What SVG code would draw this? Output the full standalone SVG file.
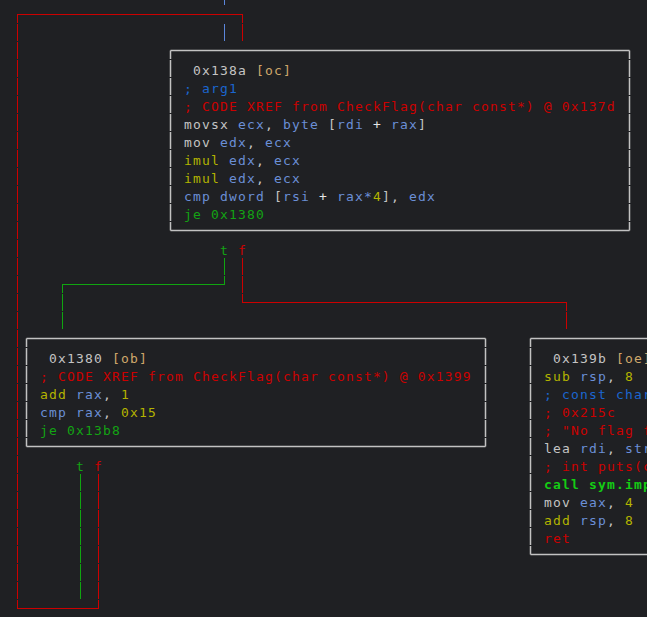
<svg xmlns="http://www.w3.org/2000/svg" width="647" height="617" viewBox="0 0 647 617">
<style>
  text { font-family: "DejaVu Sans Mono", "Liberation Mono", monospace; font-size: 13px; letter-spacing: 1.17px; }
  .w { fill: #c4c4c4; }
  .pl { fill: #e6e6e6; }
  .bl { fill: #6b8fd6; }
  .cm { fill: #1b66cf; }
  .rd { fill: #cc0000; }
  .yl { fill: #b3b300; }
  .gr { fill: #13a313; }
  .cg { fill: #14cc14; font-weight: bold; }
  .hd { fill: #cfa86b; }
  .edge { fill: none; stroke-width: 1; }
  .vs { stroke-dasharray: 17 1; }
  .vc { stroke-dasharray: 17 1; stroke-dashoffset: 8.5; }
  .red { stroke: #cc0000; }
  .green { stroke: #10a510; }
  .blue { stroke: #5b86db; }
  .bh { fill: none; stroke: #c2c2c2; stroke-width: 1.5; }
  .bv { fill: none; stroke: #c2c2c2; stroke-width: 1.5; stroke-dasharray: 17 1; stroke-dashoffset: 8.5; }
</style>
<rect x="0" y="0" width="647" height="617" fill="#1f2023"/>

<g id="connectors">
  <!-- incoming blue to oc -->
  <path class="edge blue" d="M224.5,0 V5"/>
  <path class="edge blue vs" d="M224.5,24 V42"/>
  <!-- loop back red from ob f to oc -->
  <path class="edge red" d="M17,14.5 H243"/>
  <path class="edge red vc" d="M242.5,14.5 V42"/>
  <path class="edge red vc" d="M17.5,14.5 V609"/>
  <path class="edge red" d="M17,608.5 H99"/>
  <path class="edge red vs" d="M98.5,474 V609"/>
  <!-- oc t -> ob -->
  <path class="edge green vs" d="M224.5,258 V285"/>
  <path class="edge green" d="M62,284.5 H225"/>
  <path class="edge green vc" d="M62.5,284.5 V330"/>
  <!-- oc f -> oe -->
  <path class="edge red vs" d="M242.5,258 V303"/>
  <path class="edge red" d="M242,302.5 H567"/>
  <path class="edge red vc" d="M566.5,302.5 V330"/>
  <!-- ob t -> below -->
  <path class="edge green vs" d="M80.5,474 V600"/>
  <!-- labels -->
  <text x="220" y="254.5" class="gr">t</text>
  <text x="238" y="254.5" class="rd">f</text>
  <text x="76" y="470.5" class="gr">t</text>
  <text x="94" y="470.5" class="rd">f</text>
</g>

<g id="node-oc">
  <path class="bh" d="M170.5,50.5 H629.5 M170.5,230.5 H629.5"/>
  <path class="bv" d="M170.5,50.5 V230.5 M629.5,50.5 V230.5"/>
  <text y="74.5"><tspan x="193" class="w">0x138a</tspan><tspan x="256" class="hd">[oc]</tspan></text>
  <text y="92.5"><tspan x="184" class="cm">; arg1</tspan></text>
  <text y="110.5"><tspan x="184" class="rd">; CODE XREF from CheckFlag(char const*) @ 0x137d</tspan></text>
  <text y="128.5"><tspan x="184" class="w">movsx</tspan><tspan x="238" class="bl">ecx</tspan><tspan x="265" class="w">,</tspan><tspan x="283" class="bl">byte</tspan><tspan x="328" class="w">[</tspan><tspan x="337" class="bl">rdi</tspan><tspan x="373" class="pl">+</tspan><tspan x="391" class="bl">rax</tspan><tspan x="418" class="w">]</tspan></text>
  <text y="146.5"><tspan x="184" class="w">mov</tspan><tspan x="220" class="bl">edx</tspan><tspan x="247" class="w">,</tspan><tspan x="265" class="bl">ecx</tspan></text>
  <text y="164.5"><tspan x="184" class="yl">imul</tspan><tspan x="229" class="bl">edx</tspan><tspan x="256" class="w">,</tspan><tspan x="274" class="bl">ecx</tspan></text>
  <text y="182.5"><tspan x="184" class="yl">imul</tspan><tspan x="229" class="bl">edx</tspan><tspan x="256" class="w">,</tspan><tspan x="274" class="bl">ecx</tspan></text>
  <text y="200.5"><tspan x="184" class="bl">cmp</tspan><tspan x="220" class="bl">dword</tspan><tspan x="274" class="w">[</tspan><tspan x="283" class="bl">rsi</tspan><tspan x="319" class="pl">+</tspan><tspan x="337" class="bl">rax*</tspan><tspan x="373" class="yl">4</tspan><tspan x="382" class="w">],</tspan><tspan x="409" class="bl">edx</tspan></text>
  <text y="218.5"><tspan x="184" class="gr">je 0x1380</tspan></text>
</g>

<g id="node-ob">
  <path class="bh" d="M26.5,338.5 H485.5 M26.5,446.5 H485.5"/>
  <path class="bv" d="M26.5,338.5 V446.5 M485.5,338.5 V446.5"/>
  <text y="362.5"><tspan x="49" class="w">0x1380</tspan><tspan x="112" class="hd">[ob]</tspan></text>
  <text y="380.5"><tspan x="40" class="rd">; CODE XREF from CheckFlag(char const*) @ 0x1399</tspan></text>
  <text y="398.5"><tspan x="40" class="yl">add</tspan><tspan x="76" class="bl">rax</tspan><tspan x="103" class="w">,</tspan><tspan x="121" class="yl">1</tspan></text>
  <text y="416.5"><tspan x="40" class="bl">cmp</tspan><tspan x="76" class="bl">rax</tspan><tspan x="103" class="w">,</tspan><tspan x="121" class="yl">0x15</tspan></text>
  <text y="434.5"><tspan x="40" class="gr">je 0x13b8</tspan></text>
</g>

<g id="node-oe">
  <path class="bh" d="M530.5,338.5 H989.5 M530.5,554.5 H989.5"/>
  <path class="bv" d="M530.5,338.5 V554.5"/>
  <text y="362.5"><tspan x="553" class="w">0x139b</tspan><tspan x="616" class="hd">[oe]</tspan></text>
  <text y="380.5"><tspan x="544" class="yl">sub</tspan><tspan x="580" class="bl">rsp</tspan><tspan x="607" class="w">,</tspan><tspan x="625" class="yl">8</tspan></text>
  <text y="398.5"><tspan x="544" class="cm">; const char</tspan></text>
  <text y="416.5"><tspan x="544" class="rd">; 0x215c</tspan></text>
  <text y="434.5"><tspan x="544" class="rd">; "No flag f</tspan></text>
  <text y="452.5"><tspan x="544" class="w">lea</tspan><tspan x="580" class="bl">rdi</tspan><tspan x="607" class="w">,</tspan><tspan x="625" class="bl">str</tspan></text>
  <text y="470.5"><tspan x="544" class="rd">; int puts(c</tspan></text>
  <text y="488.5"><tspan x="544" class="cg">call sym.imp</tspan></text>
  <text y="506.5"><tspan x="544" class="w">mov</tspan><tspan x="580" class="bl">eax</tspan><tspan x="607" class="w">,</tspan><tspan x="625" class="yl">4</tspan></text>
  <text y="524.5"><tspan x="544" class="yl">add</tspan><tspan x="580" class="bl">rsp</tspan><tspan x="607" class="w">,</tspan><tspan x="625" class="yl">8</tspan></text>
  <text y="542.5"><tspan x="544" class="rd">ret</tspan></text>
</g>
</svg>
